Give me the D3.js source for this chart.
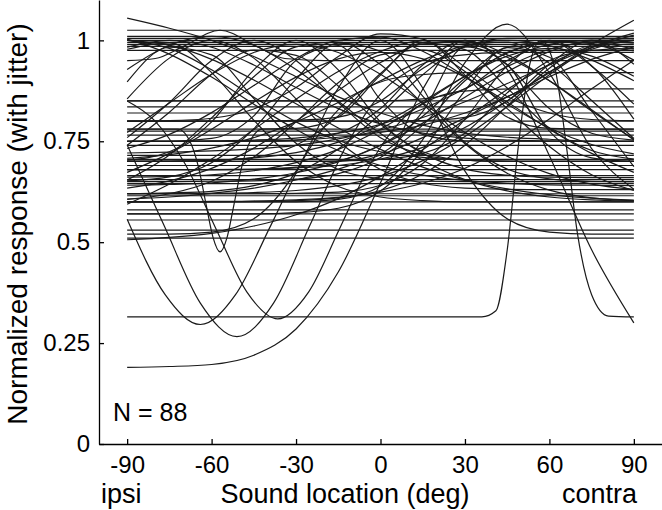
<!DOCTYPE html>
<html>
<head>
<meta charset="utf-8">
<script src="https://cdn.jsdelivr.net/npm/d3@7"></script>
<style>
  body { margin: 0; background: #fff; }
  svg { display: block; font-family: "Liberation Sans", Arial, sans-serif; }
  .axis path, .axis line { stroke: #000; stroke-width: 1.3; }
  .axis text { font-size: 24px; fill: #000; }
  .curve { fill: none; stroke: #1a1a1a; stroke-width: 1.2; }
  .title { font-size: 27px; fill: #000; }
</style>
</head>
<body>
<div id="chart"></div>
<script>
const width = 662, height = 510;

// sound locations (deg) at which the tuning curves are sampled
const angles = [-90, -75, -60, -45, -30, -15, 0, 15, 30, 45, 60, 75, 90];

// neurons whose fitted response stays flat across space
const flatLevels = [1.025, 1.01, 1.005, 1.0, 0.995, 0.99, 0.985, 0.975, 0.85, 0.835,
  0.82, 0.8, 0.775, 0.765, 0.75, 0.74, 0.715, 0.705, 0.69, 0.68, 0.665, 0.655,
  0.645, 0.62, 0.615, 0.6, 0.58, 0.57, 0.555, 0.53, 0.51];

// tuned neurons, one row of values per neuron (same order as angles)
const tunedCurves = [
  [0.68, 0.68, 0.68, 0.68, 0.684, 0.69, 0.706, 0.735, 0.784, 0.85, 0.922, 0.978, 1.0],
  [0.607, 0.612, 0.621, 0.634, 0.654, 0.681, 0.716, 0.759, 0.808, 0.86, 0.91, 0.953, 0.984],
  [0.6, 0.6, 0.6, 0.601, 0.603, 0.61, 0.628, 0.669, 0.74, 0.837, 0.931, 0.986, 0.974],
  [0.506, 0.512, 0.522, 0.54, 0.568, 0.608, 0.663, 0.729, 0.804, 0.878, 0.941, 0.985, 1.0],
  [0.65, 0.65, 0.651, 0.652, 0.656, 0.67, 0.71, 0.79, 0.9, 0.97, 0.995, 1.0, 1.0],
  [0.62, 0.62, 0.621, 0.623, 0.628, 0.64, 0.663, 0.702, 0.762, 0.836, 0.915, 0.982, 1.018],
  [0.7, 0.7, 0.7, 0.7, 0.7, 0.701, 0.705, 0.72, 0.77, 0.87, 0.95, 0.975, 0.98],
  [0.8, 0.8, 0.8, 0.8, 0.802, 0.81, 0.85, 0.93, 0.985, 1.005, 1.005, 1.005, 1.005],
  [0.62, 0.62, 0.62, 0.62, 0.621, 0.624, 0.641, 0.695, 0.805, 0.937, 1.0, 0.937, 0.805],
  [0.721, 0.723, 0.726, 0.731, 0.74, 0.756, 0.778, 0.809, 0.848, 0.893, 0.939, 0.982, 1.013],
  [0.75, 0.75, 0.751, 0.753, 0.758, 0.77, 0.792, 0.83, 0.88, 0.935, 0.978, 0.995, 0.978],
  [0.85, 0.85, 0.85, 0.85, 0.85, 0.85, 0.85, 0.855, 0.88, 0.95, 0.99, 1.0, 1.0],
  [0.661, 0.663, 0.667, 0.677, 0.697, 0.73, 0.78, 0.844, 0.911, 0.968, 0.998, 0.992, 0.951],
  [0.6, 0.6, 0.6, 0.6, 0.6, 0.606, 0.639, 0.754, 0.945, 1.04, 0.919, 0.732, 0.631],
  [0.19, 0.192, 0.197, 0.22, 0.285, 0.426, 0.647, 0.879, 1.0, 0.928, 0.714, 0.481, 0.3],
  [0.52, 0.52, 0.525, 0.558, 0.676, 0.882, 1.0, 0.882, 0.676, 0.558, 0.525, 0.52, 0.52],
  [0.7, 0.7, 0.702, 0.71, 0.74, 0.813, 0.918, 0.994, 0.977, 0.882, 0.783, 0.727, 0.706],
  [0.652, 0.662, 0.697, 0.781, 0.904, 0.993, 0.973, 0.862, 0.747, 0.681, 0.657, 0.651, 0.65],
  [0.606, 0.62, 0.651, 0.711, 0.798, 0.895, 0.964, 0.976, 0.923, 0.831, 0.737, 0.667, 0.628],
  [0.75, 0.75, 0.75, 0.75, 0.753, 0.77, 0.831, 0.939, 1.0, 0.939, 0.831, 0.77, 0.753],
  [0.703, 0.724, 0.798, 0.927, 1.0, 0.927, 0.798, 0.724, 0.703, 0.7, 0.7, 0.7, 0.7],
  [0.654, 0.716, 0.808, 0.91, 0.984, 0.996, 0.94, 0.843, 0.744, 0.671, 0.629, 0.61, 0.603],
  [0.62, 0.622, 0.626, 0.64, 0.671, 0.731, 0.818, 0.915, 0.984, 0.996, 0.943, 0.851, 0.757],
  [0.74, 0.822, 0.916, 0.976, 0.963, 0.887, 0.792, 0.72, 0.681, 0.666, 0.661, 0.66, 0.66],
  [0.78, 0.78, 0.78, 0.78, 0.782, 0.81, 0.914, 1.0, 0.914, 0.81, 0.782, 0.78, 0.78],
  [0.732, 0.767, 0.821, 0.888, 0.955, 1.0, 1.008, 0.973, 0.911, 0.842, 0.783, 0.742, 0.719],
  [0.57, 0.57, 0.57, 0.57, 0.573, 0.584, 0.627, 0.728, 0.875, 0.982, 0.958, 0.825, 0.687],
  [0.634, 0.652, 0.683, 0.733, 0.8, 0.876, 0.945, 0.991, 0.998, 0.964, 0.9, 0.825, 0.755],
  [1.0, 0.98, 0.927, 0.859, 0.798, 0.752, 0.724, 0.71, 0.703, 0.701, 0.7, 0.7, 0.7],
  [0.978, 0.994, 0.92, 0.802, 0.7, 0.638, 0.612, 0.603, 0.6, 0.6, 0.6, 0.6, 0.6],
  [1.003, 0.966, 0.909, 0.842, 0.779, 0.727, 0.69, 0.666, 0.653, 0.646, 0.642, 0.641, 0.64],
  [0.897, 0.983, 0.964, 0.856, 0.745, 0.68, 0.657, 0.651, 0.65, 0.65, 0.65, 0.65, 0.65],
  [1.0, 0.988, 0.953, 0.902, 0.843, 0.783, 0.73, 0.686, 0.654, 0.632, 0.618, 0.609, 0.604],
  [0.855, 0.956, 1.0, 0.956, 0.855, 0.75, 0.68, 0.646, 0.634, 0.631, 0.63, 0.63, 0.63],
  [1.055, 1.03, 1.0, 0.96, 0.91, 0.86, 0.82, 0.79, 0.77, 0.76, 0.755, 0.75, 0.75],
  [0.759, 0.846, 0.95, 1.0, 0.95, 0.846, 0.759, 0.717, 0.703, 0.7, 0.7, 0.7, 0.7],
  [0.75, 0.75, 0.75, 0.751, 0.753, 0.76, 0.772, 0.79, 0.82, 0.86, 0.92, 0.99, 1.05],
  [0.641, 0.643, 0.647, 0.656, 0.672, 0.699, 0.74, 0.795, 0.859, 0.922, 0.972, 0.998, 0.993],
  [0.6, 0.6, 0.601, 0.602, 0.605, 0.611, 0.624, 0.646, 0.683, 0.737, 0.805, 0.88, 0.951],
  [0.7, 0.701, 0.703, 0.709, 0.722, 0.748, 0.791, 0.849, 0.911, 0.961, 0.98, 0.961, 0.911],
  [0.75, 0.75, 0.757, 0.813, 0.95, 0.987, 0.853, 0.767, 0.751, 0.75, 0.75, 0.75, 0.75],
  [0.8, 0.801, 0.807, 0.83, 0.883, 0.96, 1.016, 1.003, 0.934, 0.861, 0.82, 0.804, 0.801],
  [0.7, 0.7, 0.7, 0.7, 0.7, 0.701, 0.72, 0.824, 0.984, 0.94, 0.775, 0.709, 0.7],
  [0.983, 1.0, 0.983, 0.939, 0.883, 0.831, 0.793, 0.77, 0.758, 0.753, 0.751, 0.75, 0.75],
  [0.772, 0.845, 0.916, 0.97, 0.99, 0.97, 0.916, 0.845, 0.772, 0.713, 0.67, 0.644, 0.631],
  [0.594, 0.644, 0.706, 0.779, 0.854, 0.923, 0.973, 0.999, 0.993, 0.958, 0.9, 0.828, 0.753],
  [0.708, 0.717, 0.733, 0.759, 0.798, 0.846, 0.9, 0.951, 0.987, 1.0, 0.987, 0.951, 0.9],
  [0.928, 0.988, 1.01, 0.988, 0.928, 0.849, 0.769, 0.703, 0.655, 0.627, 0.612, 0.605, 0.602],
  [0.8, 0.8, 0.8, 0.8, 0.8, 0.8, 0.8, 0.801, 0.809, 0.85, 0.941, 1.0, 0.941],
  [0.673, 0.72, 0.78, 0.847, 0.909, 0.954, 0.97, 0.954, 0.909, 0.847, 0.78, 0.72, 0.673],
  [0.68, 0.68, 0.68, 0.681, 0.686, 0.701, 0.74, 0.812, 0.906, 0.983, 0.996, 0.936, 0.842]
];

// sharply tuned neurons, read as [deg, response] points
const sharpCurves = [
  [[-90, 0.315], [36, 0.315], [41, 0.33], [45, 0.48], [49, 0.74], [53, 0.94], [57, 1.0],
   [62, 0.93], [66, 0.74], [70, 0.52], [75, 0.37], [81, 0.317], [90, 0.315]],
  [[-90, 0.95], [-80, 0.955], [-70, 0.985], [-57, 1.025], [-44, 0.985], [-34, 0.955], [-20, 0.95], [90, 0.95]],
  [[-90, 0.557], [-76.5, 0.37], [-64, 0.296], [-51.5, 0.37], [-39, 0.541], [-26.5, 0.717],
   [-14, 0.836], [-1.5, 0.893], [11, 0.913], [30, 0.92], [90, 0.92]],
  [[-90, 0.741], [-77, 0.543], [-64, 0.349], [-51, 0.266], [-38, 0.349], [-25, 0.543],
   [-12, 0.741], [1, 0.875], [14, 0.939], [27, 0.962], [45, 0.97], [90, 0.97]],
  [[-90, 0.85], [-80.5, 0.803], [-69.5, 0.695], [-58.5, 0.534], [-47.5, 0.377], [-36.5, 0.31],
   [-25.5, 0.377], [-14.5, 0.534], [-3.5, 0.695], [7.5, 0.803], [18.5, 0.855], [29.5, 0.874],
   [50, 0.88], [90, 0.88]],
  [[-90, 0.78], [-72, 0.78], [-67, 0.739], [-64.5, 0.681], [-62, 0.595], [-59.5, 0.512],
   [-57, 0.476], [-54.5, 0.512], [-52, 0.595], [-49.5, 0.681], [-47, 0.739], [-42, 0.78], [90, 0.78]]
];

const xTicks = [-90, -60, -30, 0, 30, 60, 90];
const yTicks = [0, 0.25, 0.5, 0.75, 1];

const xScale = d3.scaleLinear().domain([-100, 100]).range([99, 662]);
const yScale = d3.scaleLinear().domain([0, 1.1]).range([444, 0]);

const svg = d3.select("#chart")
  .append("svg")
  .attr("width", width)
  .attr("height", height)
  .attr("viewBox", `0 0 ${width} ${height}`);

const allCurves = [
  ...flatLevels.map(v => [[-90, v], [90, v]]),
  ...tunedCurves.map(row => row.map((v, i) => [angles[i], v])),
  ...sharpCurves
];

const line = d3.line()
  .x(d => xScale(d[0]))
  .y(d => yScale(d[1]))
  .curve(d3.curveMonotoneX);

svg.append("g")
  .selectAll("path")
  .data(allCurves)
  .join("path")
  .attr("class", "curve")
  .attr("d", line);

svg.append("g")
  .attr("class", "axis")
  .attr("transform", "translate(0,444)")
  .call(d3.axisBottom(xScale).tickValues(xTicks).tickFormat(d => String(d))
    .tickSizeInner(-5).tickSizeOuter(0).tickPadding(12))
  .call(g => g.selectAll("text").attr("font-family", null).attr("font-size", null));

svg.append("g")
  .attr("class", "axis")
  .attr("transform", "translate(99,0)")
  .call(d3.axisLeft(yScale).tickValues(yTicks).tickFormat(d => String(d))
    .tickSizeInner(-5).tickSizeOuter(0).tickPadding(9))
  .call(g => g.selectAll("text").attr("font-family", null).attr("font-size", null));

svg.append("text")
  .attr("class", "title")
  .attr("transform", "translate(27,224) rotate(-90)")
  .attr("text-anchor", "middle")
  .style("font-size", "28px")
  .text("Normalized response (with jitter)");

svg.append("text")
  .attr("class", "title")
  .attr("x", 101).attr("y", 503)
  .text("ipsi");

svg.append("text")
  .attr("class", "title")
  .attr("x", 345).attr("y", 503)
  .attr("text-anchor", "middle")
  .text("Sound location (deg)");

svg.append("text")
  .attr("class", "title")
  .attr("x", 637).attr("y", 503)
  .attr("text-anchor", "end")
  .text("contra");

svg.append("text")
  .attr("class", "title")
  .attr("x", 113).attr("y", 421)
  .style("font-size", "25px")
  .text("N = 88");
</script>
</body>
</html>
